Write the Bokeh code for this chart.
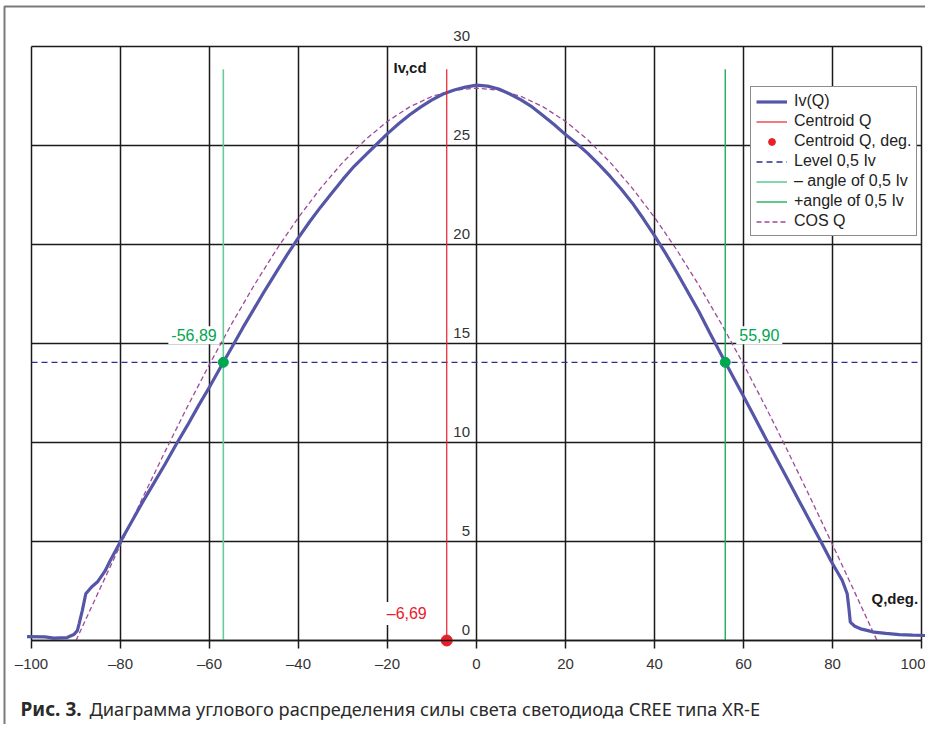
from bokeh.plotting import figure
from bokeh.models import Range1d, FixedTicker, Label, Legend, LegendItem
from bokeh.embed import file_html
from bokeh.resources import INLINE

# ---- data ----
x_ticks = [-100, -80, -60, -40, -20, 0, 20, 40, 60, 80, 100]
x_tick_labels = ["\u2013100", "\u201380", "\u201360", "\u201340", "\u201320", "0", "20", "40", "60", "80", "100"]
y_ticks = [0, 5, 10, 15, 20, 25, 30]
y_tick_labels = ["0", "5", "10", "15", "20", "25", "30"]

iv_angle = [-101, -97, -95, -92, -90.5, -89.7, -89.3, -88.6, -87.8, -86.5, -85.2, -83.5, -82.3, -80,
            -77.5, -75, -72.5, -70, -67.5, -65, -62.5, -60, -56.89, -55, -52.5, -50, -47.5, -45,
            -42.5, -40, -37.5, -35, -32.5, -30, -27.5, -25, -22.5, -20, -17.5, -15, -12.5, -10,
            -7.5, -5, -2.5, 0, 2.5, 5, 7.5, 10, 12.5, 15, 17.5, 20, 22.5, 25, 27.5, 30, 32.5, 35,
            37.5, 40, 42.5, 45, 47.5, 50, 52.5, 55.9, 57.5, 60, 62.5, 65, 67.5, 70, 72.5, 75, 77.5,
            79.6, 81, 82.2, 83.3, 83.7, 84.0, 85, 86.3, 88, 89.3, 92, 95, 98, 101]
iv_value = [0.2, 0.18, 0.12, 0.15, 0.3, 0.5, 0.84, 1.5, 2.36, 2.7, 2.95, 3.5, 4.04, 5.0,
            6.0, 7.0, 7.95, 8.9, 9.9, 10.85, 11.85, 12.8, 14.05, 14.8, 15.8, 16.75, 17.7, 18.6,
            19.5, 20.35, 21.15, 21.9, 22.6, 23.3, 23.95, 24.5, 25.05, 25.6, 26.1, 26.55, 26.95, 27.3,
            27.6, 27.8, 27.95, 28.05, 28.0, 27.85, 27.6, 27.3, 26.95, 26.5, 26.05, 25.55, 25.1, 24.6,
            24.05, 23.45, 22.8, 22.1, 21.3, 20.45, 19.55, 18.6, 17.6, 16.6, 15.5, 14.05, 13.38,
            12.33, 11.28, 10.2, 9.15, 8.1, 7.05, 6.0, 4.95, 4.04, 3.5, 3.03, 2.36, 1.6, 0.93, 0.72,
            0.59, 0.5, 0.42, 0.36, 0.3, 0.27, 0.25]

cos_angle = [-90, -85, -80, -75, -70, -65, -60, -55, -50, -45, -40, -35, -30, -25, -20, -15, -10, -5, 0,
             5, 10, 15, 20, 25, 30, 35, 40, 45, 50, 55, 60, 65, 70, 75, 80, 85, 90]
cos_value = [0.0, 2.43, 4.84, 7.22, 9.54, 11.79, 13.95, 16.0, 17.93, 19.73, 21.37, 22.85, 24.16, 25.29,
             26.22, 26.95, 27.48, 27.79, 27.9, 27.79, 27.48, 26.95, 26.22, 25.29, 24.16, 22.85, 21.37,
             19.73, 17.93, 16.0, 13.95, 11.79, 9.54, 7.22, 4.84, 2.43, 0.0]

centroid_angle = -6.69
half_level = 14.05
minus_angle = -56.89
plus_angle = 55.90
marker_line_top = 28.85

centroid_text = "\u20136,69"
minus_text = "-56,89"
plus_text = "55,90"
caption_bold = "Рис. 3."
caption_rest = "Диаграмма углового распределения силы света светодиода CREE типа XR-E"

FONT = "Liberation Sans"
W, H = 925, 724
# pixel geometry of the chart area inside the canvas
PL, PR, PT, PB = 31, 921, 46, 640
sx = (PR - PL) / (x_ticks[-1] - x_ticks[0])
sy = (PB - PT) / (y_ticks[-1] - y_ticks[0])
x_start = x_ticks[0] - PL / sx
x_end = x_ticks[-1] + (W - PR) / sx
y_start = y_ticks[0] - (H - PB) / sy
y_end = y_ticks[-1] + PT / sy

p = figure(width=W, height=H, x_range=Range1d(x_start, x_end), y_range=Range1d(y_start, y_end),
           output_backend="svg", toolbar_location=None, min_border=0)
p.background_fill_color = "white"
p.border_fill_color = "white"
p.outline_line_color = None
p.grid.visible = False
p.yaxis.visible = False

xa = p.xaxis[0]
xa.fixed_location = 0
xa.bounds = (x_ticks[0], x_ticks[-1])
xa.ticker = FixedTicker(ticks=x_ticks)
xa.major_label_overrides = {t: l for t, l in zip(x_ticks, x_tick_labels)}
xa.major_tick_in = 0
xa.major_tick_out = 8
xa.minor_tick_in = 0
xa.minor_tick_out = 0
xa.axis_line_width = 1.5
xa.axis_line_color = "#1a1a1a"
xa.major_tick_line_width = 1.5
xa.major_tick_line_color = "#1a1a1a"
xa.major_label_text_font = FONT
xa.major_label_text_font_size = "15px"
xa.major_label_text_color = "#333333"
xa.major_label_standoff = 6

# outer grey frame (left and top edges)
fx = x_start + 4 / sx
fy = y_end - 6 / sy
p.line([fx, fx, x_end + 5], [y_start - 5, fy, fy], line_color="#7a7a7a", line_width=2)

# grid lines and chart border from the tick lists
p.segment(x0=x_ticks, y0=[y_ticks[0]] * len(x_ticks), x1=x_ticks, y1=[y_ticks[-1]] * len(x_ticks),
          line_color="#1a1a1a", line_width=1.5)
p.segment(x0=[x_ticks[0]] * len(y_ticks), y0=y_ticks, x1=[x_ticks[-1]] * len(y_ticks), y1=y_ticks,
          line_color="#1a1a1a", line_width=1.5)

# y tick labels along the central axis
for t, lab in zip(y_ticks, y_tick_labels):
    p.add_layout(Label(x=0, y=t, text=lab, x_offset=-6.5, y_offset=10.5, text_align="right",
                       text_baseline="middle", text_font=FONT, text_font_size="15px",
                       text_color="#333333"))

# series
r_level = p.line([x_ticks[0], x_ticks[-1]], [half_level, half_level], line_color="#2e2e8f",
                 line_width=1.3, line_dash="6 4")
r_cos = p.line(cos_angle, cos_value, line_color="#a04a9a", line_width=1.3, line_dash="5 3")
r_iv = p.line(iv_angle, iv_value, line_color="#5656a8", line_width=3.2)
r_cent = p.segment(x0=[centroid_angle], y0=[0], x1=[centroid_angle], y1=[marker_line_top],
                   line_color="#e8202a", line_width=1.2)
r_minus = p.segment(x0=[minus_angle], y0=[0], x1=[minus_angle], y1=[marker_line_top],
                    line_color="#66cc99", line_width=1.6)
r_plus = p.segment(x0=[plus_angle], y0=[0], x1=[plus_angle], y1=[marker_line_top],
                   line_color="#1fae5c", line_width=1.4)
p.scatter([minus_angle, plus_angle], [half_level, half_level], size=10, color="#00a651")
r_cent_dot = p.scatter([centroid_angle], [0], size=11, color="#e8202a")

# annotations
p.add_layout(Label(x=0, y=y_ticks[-1], x_offset=-83, y_offset=-21, text="Iv,cd", text_font=FONT,
                   text_font_style="bold", text_font_size="15px", text_baseline="middle",
                   text_color="#1a1a1a"))
p.add_layout(Label(x=x_ticks[-1], y=0, x_offset=-50, y_offset=42, text="Q,deg.", text_font=FONT,
                   text_font_style="bold", text_font_size="15px", text_baseline="middle",
                   text_color="#1a1a1a"))
p.add_layout(Label(x=minus_angle, y=half_level, x_offset=-55, y_offset=27, text=minus_text,
                   text_font=FONT, text_font_size="16px", text_baseline="middle", text_color="#00a651",
                   background_fill_color="white", padding=3))
p.add_layout(Label(x=plus_angle, y=half_level, x_offset=11, y_offset=27, text=plus_text,
                   text_font=FONT, text_font_size="16px", text_baseline="middle", text_color="#00a651",
                   background_fill_color="white", padding=3))
p.add_layout(Label(x=centroid_angle, y=0, x_offset=-63, y_offset=27, text=centroid_text,
                   text_font=FONT, text_font_size="16px", text_baseline="middle", text_color="#e8202a",
                   background_fill_color="white", padding=3))

# caption
p.add_layout(Label(x=x_ticks[0], y=0, x_offset=-11, y_offset=-68, text=caption_bold,
                   text_font="Noto Sans", text_font_style="bold", text_font_size="19px",
                   text_baseline="middle", text_color="#2a2a2a"))
p.add_layout(Label(x=x_ticks[0], y=0, x_offset=58, y_offset=-68, text=caption_rest,
                   text_font="Noto Sans", text_font_size="18.2px", text_baseline="middle",
                   text_color="#2a2a2a"))

legend = Legend(items=[
    LegendItem(label="Iv(Q)", renderers=[r_iv]),
    LegendItem(label="Centroid Q", renderers=[r_cent]),
    LegendItem(label="Centroid Q, deg.", renderers=[r_cent_dot]),
    LegendItem(label="Level 0,5 Iv", renderers=[r_level]),
    LegendItem(label="\u2013 angle of 0,5 Iv", renderers=[r_minus]),
    LegendItem(label="+angle of 0,5 Iv", renderers=[r_plus]),
    LegendItem(label="COS Q", renderers=[r_cos]),
], location=(750, H - 236))
legend.border_line_color = "#1a1a1a"
legend.border_line_width = 1.5
legend.background_fill_alpha = 1
legend.padding = 5
legend.spacing = 2
legend.glyph_height = 17
legend.label_height = 17
legend.glyph_width = 31
legend.label_standoff = 7
legend.margin = 0
legend.label_text_font = FONT
legend.label_text_font_size = "16px"
legend.label_text_color = "#222222"
p.add_layout(legend)

open("out.html", "w").write(file_html(p, INLINE))
